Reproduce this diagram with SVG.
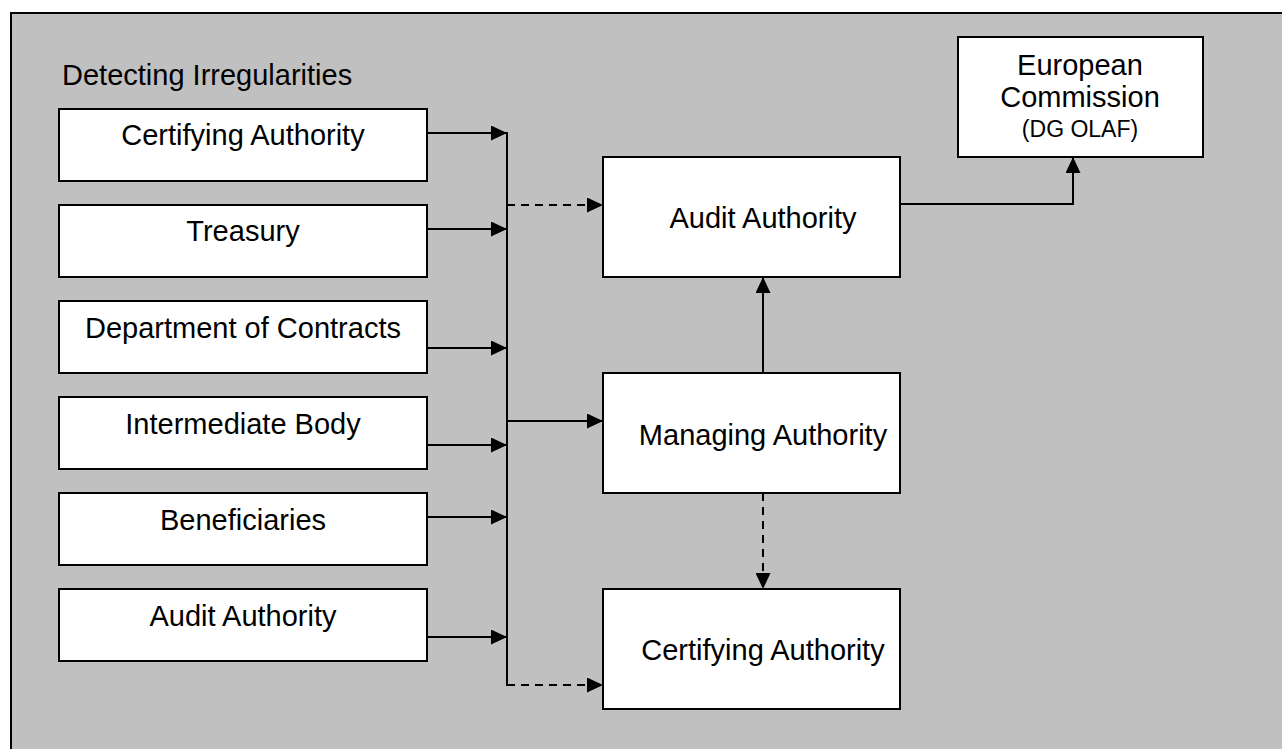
<svg xmlns="http://www.w3.org/2000/svg" width="1282" height="749" viewBox="0 0 1282 749">
<style>
.box{fill:#fff;stroke:#000;stroke-width:2}
.t{font-family:"Liberation Sans",Arial,sans-serif;font-size:29px;fill:#000;text-anchor:middle}
.c{fill:none;stroke:#000;stroke-width:2}
.d{stroke-dasharray:8 6}
</style>
<defs>
<marker id="ah" markerUnits="userSpaceOnUse" markerWidth="16" markerHeight="15" refX="16" refY="7.5" orient="auto">
<path d="M0,0 L16,7.5 L0,15 Z" fill="#000"/>
</marker>
</defs>
<rect x="0" y="0" width="1282" height="749" fill="#fff"/>
<rect id="frame" x="11" y="13" width="1290" height="760" fill="#C0C0C0" stroke="#000" stroke-width="2"/>
<text x="62" y="85" class="t" style="text-anchor:start">Detecting Irregularities</text>

<g id="src-certifying">
<rect class="box" x="59" y="109" width="368" height="72"/>
<text class="t" x="243" y="145">Certifying Authority</text>
</g>
<g id="src-treasury">
<rect class="box" x="59" y="205" width="368" height="72"/>
<text class="t" x="243" y="241">Treasury</text>
</g>
<g id="src-contracts">
<rect class="box" x="59" y="301" width="368" height="72"/>
<text class="t" x="243" y="338">Department of Contracts</text>
</g>
<g id="src-intermediate">
<rect class="box" x="59" y="397" width="368" height="72"/>
<text class="t" x="243" y="434">Intermediate Body</text>
</g>
<g id="src-beneficiaries">
<rect class="box" x="59" y="493" width="368" height="72"/>
<text class="t" x="243" y="530">Beneficiaries</text>
</g>
<g id="src-audit">
<rect class="box" x="59" y="589" width="368" height="72"/>
<text class="t" x="243" y="626">Audit Authority</text>
</g>

<g id="audit-authority">
<rect class="box" x="603" y="157" width="297" height="120"/>
<text class="t" x="763" y="228">Audit Authority</text>
</g>
<g id="managing-authority">
<rect class="box" x="603" y="373" width="297" height="120"/>
<text class="t" x="763" y="445">Managing Authority</text>
</g>
<g id="certifying-authority">
<rect class="box" x="603" y="589" width="297" height="120"/>
<text class="t" x="763" y="660">Certifying Authority</text>
</g>
<g id="european-commission">
<rect class="box" x="958" y="37" width="245" height="120"/>
<text class="t" x="1080" y="75">European</text>
<text class="t" x="1080" y="107">Commission</text>
<text class="t" x="1080" y="137" style="font-size:23px">(DG OLAF)</text>
</g>

<g id="connectors">
<line class="c" x1="427" y1="133" x2="507" y2="133" marker-end="url(#ah)"/>
<line class="c" x1="427" y1="229" x2="507" y2="229" marker-end="url(#ah)"/>
<line class="c" x1="427" y1="348" x2="507" y2="348" marker-end="url(#ah)"/>
<line class="c" x1="427" y1="445" x2="507" y2="445" marker-end="url(#ah)"/>
<line class="c" x1="427" y1="517" x2="507" y2="517" marker-end="url(#ah)"/>
<line class="c" x1="427" y1="637" x2="507" y2="637" marker-end="url(#ah)"/>
<line class="c" x1="507" y1="132" x2="507" y2="686"/>
<line class="c d" x1="507" y1="205" x2="603" y2="205" marker-end="url(#ah)"/>
<line class="c" x1="507" y1="421" x2="603" y2="421" marker-end="url(#ah)"/>
<line class="c d" x1="507" y1="685" x2="603" y2="685" marker-end="url(#ah)"/>
<line class="c" x1="763" y1="373" x2="763" y2="277" marker-end="url(#ah)"/>
<line class="c d" x1="763" y1="493" x2="763" y2="589" marker-end="url(#ah)"/>
<polyline class="c" points="900,204 1073,204 1073,157" marker-end="url(#ah)"/>
</g>
</svg>
